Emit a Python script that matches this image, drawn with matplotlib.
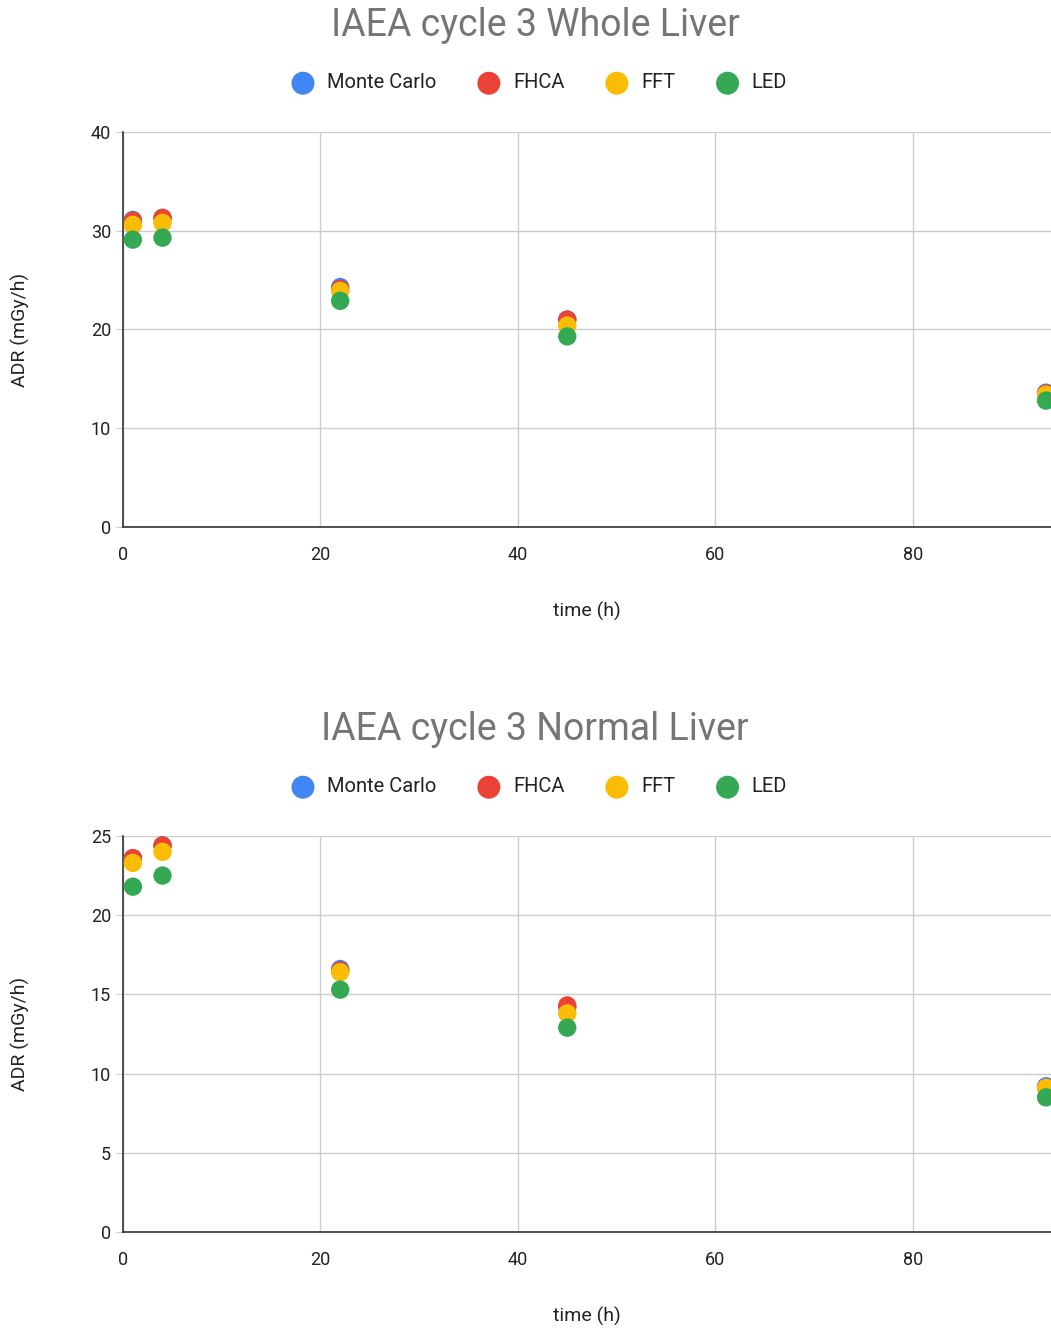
import matplotlib.pyplot as plt

plt.rcParams['font.family'] = ['Roboto', 'DejaVu Sans']

# time points (h)
time_h = [1, 4, 22, 45, 93.5]

# Whole liver ADR (mGy/h)
whole_mc = [31.1, 31.3, 24.3, 21.0, 13.6]
whole_fhca = [31.0, 31.3, 24.1, 21.0, 13.5]
whole_fft = [30.6, 30.8, 23.9, 20.4, 13.4]
whole_led = [29.1, 29.3, 22.9, 19.3, 12.8]

# Normal liver ADR (mGy/h)
normal_mc = [23.6, 24.4, 16.6, 14.2, 9.2]
normal_fhca = [23.6, 24.4, 16.5, 14.3, 9.1]
normal_fft = [23.3, 24.0, 16.4, 13.8, 9.1]
normal_led = [21.8, 22.5, 15.3, 12.9, 8.5]

labels = ["Monte Carlo", "FHCA", "FFT", "LED"]
colors = ["#4285F4", "#EA4335", "#FBBC04", "#34A853"]

fig = plt.figure(figsize=(10.51, 13.28), dpi=100)


def draw(ax, series, title, ymax, yticks, title_y, legend_y):
    for vals, lab, col in zip(series, labels, colors):
        ax.scatter(time_h, vals, s=175, color=col, label=lab, zorder=3,
                   edgecolors="none", clip_on=False)
    ax.set_xlim(0, 94)
    ax.set_ylim(0, ymax)
    ax.set_xticks([0, 20, 40, 60, 80])
    ax.set_yticks(yticks)
    ax.grid(True, color="#cccccc", linewidth=1)
    ax.set_axisbelow(True)
    for s in ["top", "right"]:
        ax.spines[s].set_visible(False)
    for s in ["left", "bottom"]:
        ax.spines[s].set_color("#333333")
        ax.spines[s].set_linewidth(1.2)
    ax.tick_params(axis="both", labelsize=13, colors="#cccccc", labelcolor="#222222",
                   length=5)
    ax.tick_params(axis="x", length=0, pad=14)
    ax.set_xlabel("time (h)", fontsize=14, color="#222222", labelpad=27)
    ax.set_ylabel("ADR (mGy/h)", fontsize=14, color="#222222", labelpad=44)
    fig.text(0.509, title_y, title, fontsize=27, color="#757575",
             ha="center", va="center")
    fig.legend(*ax.get_legend_handles_labels(), loc="center",
               bbox_to_anchor=(0.509, legend_y), ncol=4, frameon=False,
               fontsize=14.5, markerscale=1.25, handletextpad=0.2,
               columnspacing=1.6, labelcolor="#222222")


ax1 = fig.add_axes([123 / 1051, 0.6032, 928 / 1051, 0.2974])
draw(ax1, [whole_mc, whole_fhca, whole_fft, whole_led],
     "IAEA cycle 3 Whole Liver", 40, [0, 10, 20, 30, 40],
     1 - 26 / 1328, 1 - 83 / 1328)

ax2 = fig.add_axes([123 / 1051, 0.0723, 928 / 1051, 0.2982])
draw(ax2, [normal_mc, normal_fhca, normal_fft, normal_led],
     "IAEA cycle 3 Normal Liver", 25, [0, 5, 10, 15, 20, 25],
     1 - 730 / 1328, 1 - 787 / 1328)

fig.savefig("out.png", dpi=100)
